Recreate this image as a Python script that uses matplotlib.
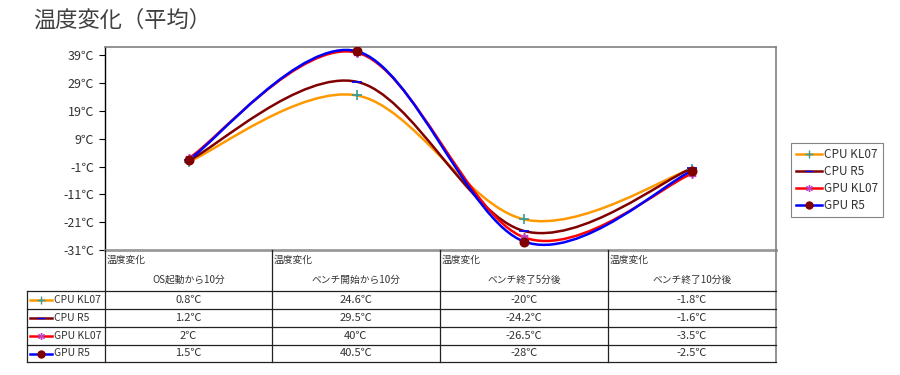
import numpy as np
import matplotlib
matplotlib.use("Agg")
import matplotlib.pyplot as plt
from matplotlib.path import Path
from matplotlib.patches import PathPatch
from matplotlib.lines import Line2D

plt.rcParams['font.family'] = ['Noto Sans CJK JP', 'DejaVu Sans']

# データ
categories = ['OS起動から10分', 'ベンチ開始から10分', 'ベンチ終了5分後', 'ベンチ終了10分後']
series_names = ['CPU KL07', 'CPU R5', 'GPU KL07', 'GPU R5']
cpu_kl07 = [0.8, 24.6, -20, -1.8]
cpu_r5 = [1.2, 29.5, -24.2, -1.6]
gpu_kl07 = [2, 40, -26.5, -3.5]
gpu_r5 = [1.5, 40.5, -28, -2.5]
y_ticks = [-31, -21, -11, -1, 9, 19, 29, 39]

series_values = [cpu_kl07, cpu_r5, gpu_kl07, gpu_r5]
# 線の色, マーカー, マーカー色, マーカーサイズ
styles = [
    ('#FF9900', '+', '#339999', 7),
    ('#800000', '_', '#0000FF', 7),
    ('#FF0000', (6, 2, 0), '#C040C0', 6),
    ('#0000FF', 'o', '#800000', 6),
]

W, H = 900, 375


def fx(px):
    return px / W


def fy(py):
    return 1 - py / H


# Excel風のなめらかな線 (Catmull-Rom -> Bezier)
def smooth_path(xs, ys):
    pts = np.column_stack([xs, ys]).astype(float)
    n = len(pts)
    verts = [pts[0]]
    codes = [Path.MOVETO]
    for i in range(n - 1):
        p0 = pts[max(i - 1, 0)]
        p1 = pts[i]
        p2 = pts[i + 1]
        p3 = pts[min(i + 2, n - 1)]
        c1 = p1 + (p2 - p0) / 6
        c2 = p2 - (p3 - p1) / 6
        verts += [c1, c2, p2]
        codes += [Path.CURVE4] * 3
    return Path(verts, codes)


fig = plt.figure(figsize=(9, 3.75), dpi=100)

# プロット領域
left, right, top, bottom = 105, 776, 47, 250
ax = fig.add_axes([fx(left), fy(bottom), fx(right - left), (bottom - top) / H])
x = np.arange(len(categories))
for vals, (lc, mk, mc, ms) in zip(series_values, styles):
    patch = PathPatch(smooth_path(x, vals), fill=False, edgecolor=lc, lw=1.8, zorder=2)
    ax.add_patch(patch)
for vals, (lc, mk, mc, ms) in zip(series_values, styles):
    ax.plot(x, vals, linestyle='none', marker=mk, color=mc, markersize=ms,
            markeredgewidth=1.2, zorder=3)

ax.set_xlim(-0.5, len(categories) - 0.5)
ax.set_ylim(-31, 42)
ax.set_yticks(y_ticks)
ax.set_yticklabels([f'{v}℃' for v in y_ticks], fontsize=9, color='#333333')
ax.set_xticks([])
ax.tick_params(axis='y', direction='out', length=4, width=0.8, pad=4)
ax.spines['left'].set_color('black')
ax.spines['left'].set_linewidth(1)
for s in ['top', 'right']:
    ax.spines[s].set_color('#808080')
    ax.spines[s].set_linewidth(1.2)
ax.spines['bottom'].set_color('#999999')
ax.spines['bottom'].set_linewidth(2)

# タイトル
fig.text(fx(33), fy(20), '温度変化（平均）', fontsize=16, color='#404040', va='center', ha='left')

# 表
col_x = [105, 272, 440, 608, 776]
row_y = [291, 309, 327, 345, 362]
table_bottom = 362


def hline(x0, x1, y, color='black', lw=1):
    fig.add_artist(Line2D([fx(x0), fx(x1)], [fy(y), fy(y)], color=color, lw=lw,
                          transform=fig.transFigure))


def vline(xp, y0, y1, color='black', lw=1):
    fig.add_artist(Line2D([fx(xp), fx(xp)], [fy(y0), fy(y1)], color=color, lw=lw,
                          transform=fig.transFigure))


for xp in col_x[:-1]:
    vline(xp, bottom, table_bottom, color='#222222', lw=0.9)
vline(col_x[-1], bottom, table_bottom, color='#808080', lw=1.2)
vline(27, row_y[0], table_bottom, color='#222222', lw=0.9)
for yp in row_y:
    hline(27, col_x[-1], yp, color='#222222', lw=0.9)

for j, cat in enumerate(categories):
    fig.text(fx(col_x[j] + 2), fy(260), '温度変化', fontsize=7, color='#333333',
             ha='left', va='center')
    fig.text(fx((col_x[j] + col_x[j + 1]) / 2), fy(280), cat, fontsize=7, color='#333333',
             ha='center', va='center')

for i, (name, vals, (lc, mk, mc, ms)) in enumerate(zip(series_names, series_values, styles)):
    yc = (row_y[i] + row_y[i + 1]) / 2
    fig.add_artist(Line2D([fx(30), fx(52)], [fy(yc), fy(yc)], color=lc, lw=1.8,
                          transform=fig.transFigure))
    fig.add_artist(Line2D([fx(41)], [fy(yc)], linestyle='none', marker=mk, color=mc,
                          markersize=ms - 1, markeredgewidth=1, transform=fig.transFigure))
    fig.text(fx(54), fy(yc), name, fontsize=7.5, color='#333333', ha='left', va='center')
    for j, v in enumerate(vals):
        fig.text(fx((col_x[j] + col_x[j + 1]) / 2), fy(yc), f'{v:g}℃', fontsize=8,
                 color='#333333', ha='center', va='center')

# 凡例
handles = [Line2D([], [], color=lc, lw=1.8, marker=mk, markeredgecolor=mc, markerfacecolor=mc,
                  markersize=ms - 1, markeredgewidth=1)
           for (lc, mk, mc, ms) in styles]
leg = fig.legend(handles, series_names, loc='upper left', bbox_to_anchor=(fx(791), fy(143)),
                 fontsize=8.5, frameon=True, fancybox=False, edgecolor='#666666',
                 borderpad=0.4, labelspacing=0.35, handlelength=2.2, handletextpad=0.2,
                 borderaxespad=0)
leg.get_frame().set_linewidth(0.8)
for t in leg.get_texts():
    t.set_color('#333333')

fig.savefig('out.png', dpi=100)
